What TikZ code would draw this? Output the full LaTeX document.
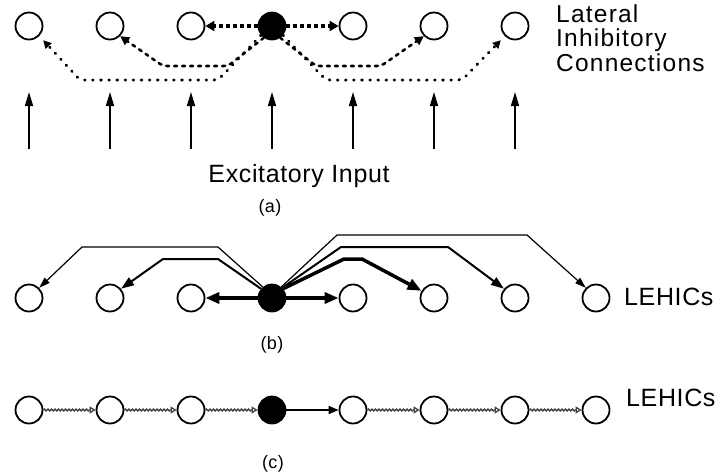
\documentclass[tikz,border=0pt]{standalone}
\usepackage{fontspec}
\setmainfont{Liberation Sans}
\usetikzlibrary{arrows.meta,decorations.pathmorphing}
\newfontfamily\wideA{Liberation Sans}[LetterSpace=2.5]
\newfontfamily\wideB{Liberation Sans}[LetterSpace=5]
\tikzset{
  neuron/.style={circle,draw,line width=1.8pt,minimum size=27pt,inner sep=0pt},
  active/.style={neuron,fill=black},
  bigtxt/.style={font=\wideA\fontsize{25}{25}\selectfont,inner sep=0pt},
  sidetxt/.style={font=\wideB\fontsize{24.5}{24.5}\selectfont,inner sep=0pt},
  lehtxt/.style={font=\wideA\fontsize{25}{25}\selectfont,inner sep=0pt},
  captxt/.style={font=\wideA\fontsize{18}{18}\selectfont,inner sep=0pt},
  inparrow/.style={line width=1.6pt,-{Triangle[length=14pt,width=8pt]}},
  inhib/.style={line width=3.5pt,dash pattern=on 4pt off 3pt,-{Triangle[length=9pt,width=10pt]}},
  dotpath/.style={line width=3pt,line cap=round,dash pattern=on 0.6pt off 7.5pt,rounded corners=4pt,-{Triangle[length=8pt,width=8pt]}},
  dashpath/.style={line width=2.6pt,line cap=round,dash pattern=on 3pt off 5pt,rounded corners=4pt,-{Triangle[length=9pt,width=9pt]}},
  thinw/.style={line width=1.2pt,-{Triangle[length=11pt,width=7pt]}},
  medw/.style={line width=2pt,-{Triangle[length=13pt,width=9pt]}},
  thickw/.style={line width=3.5pt,-{Triangle[length=14pt,width=11pt]}},
  wavy/.style={draw=black!75,line width=1.3pt,decorate,decoration={snake,amplitude=1pt,segment length=3.5pt,post length=6pt},-{Triangle[open,length=6pt,width=7pt]}},
}
\begin{document}
\begin{tikzpicture}[x=1pt,y=-1pt]
\useasboundingbox (0,0) rectangle (720,475);
% ---------- (a)
\foreach \i in {1,...,7}{
  \pgfmathsetmacro{\xx}{29+81*(\i-1)}
  \ifnum\i=4 \node[active] (a\i) at (\xx,26) {};
  \else \node[neuron] (a\i) at (\xx,26) {}; \fi
  \coordinate (in\i) at (\xx,149);
  \draw[inparrow] (in\i) -- ++(0,-57);
}
\draw[inhib] (a4) -- (a3);
\draw[inhib] (a4) -- (a5);
\draw[dashpath] (a4.-125) -- (228,66) -- (163,66) -- (a2.-45);
\draw[dotpath] (a4.-140) -- (218,80) -- (80,80) -- ([shift={(4pt,-4pt)}]a1.-45);
\draw[dashpath] (a4.-55) -- (316,66) -- (381,66) -- (a6.-135);
\draw[dotpath] (a4.-40) -- (326,80) -- (462,80) -- ([shift={(-4pt,-4pt)}]a7.-135);
\node[sidetxt,anchor=base west] (lat1) at (556,22) {Lateral};
\node[sidetxt,anchor=base west] (lat2) at (556,46) {Inhibitory};
\node[sidetxt,anchor=base west] (lat3) at (556,71) {Connections};
\node[bigtxt] (exc) at (299,176) {Excitatory Input};
\node[captxt] (capa) at (270,208) {(a)};
% ---------- (b)
\foreach \i in {1,...,8}{
  \pgfmathsetmacro{\xx}{29+81*(\i-1)}
  \ifnum\i=4 \node[active] (b\i) at (\xx,298) {};
  \else \node[neuron] (b\i) at (\xx,298) {}; \fi
}
\draw[thickw] (b4) -- (b3);
\draw[thickw] (b4) -- (b5);
\draw[thinw] (b4.130) -- (218,247) -- (82,247) -- (b1.45);
\draw[medw] (b4.140) -- (218,259) -- (163,259) -- (b2.40);
\draw[thinw] (b4.50) -- (337,235) -- (527,235) -- (b8.135);
\draw[medw] (b4.45) -- (341,247) -- (448,247) -- (b7.140);
\draw[thickw] (b4.40) -- (344,259) -- (362,259) -- (b6.150);
\node[lehtxt,anchor=west] (lehb) at (624,297) {LEHICs};
\node[captxt] (capb) at (272,345) {(b)};
% ---------- (c)
\foreach \i in {1,...,8}{
  \pgfmathsetmacro{\xx}{29+81*(\i-1)}
  \ifnum\i=4 \node[active] (c\i) at (\xx,410) {};
  \else \node[neuron] (c\i) at (\xx,410) {}; \fi
}
\draw[wavy] (c1) -- (c2);
\draw[wavy] (c2) -- (c3);
\draw[wavy] (c3) -- (c4);
\draw[line width=1.8pt,-{Triangle[length=10pt,width=8pt]}] (c4) -- (c5);
\draw[wavy] (c5) -- (c6);
\draw[wavy] (c6) -- (c7);
\draw[wavy] (c7) -- (c8);
\node[lehtxt,anchor=west] (lehc) at (626,398) {LEHICs};
\node[captxt] (capc) at (273,464) {(c)};
\end{tikzpicture}
\end{document}
